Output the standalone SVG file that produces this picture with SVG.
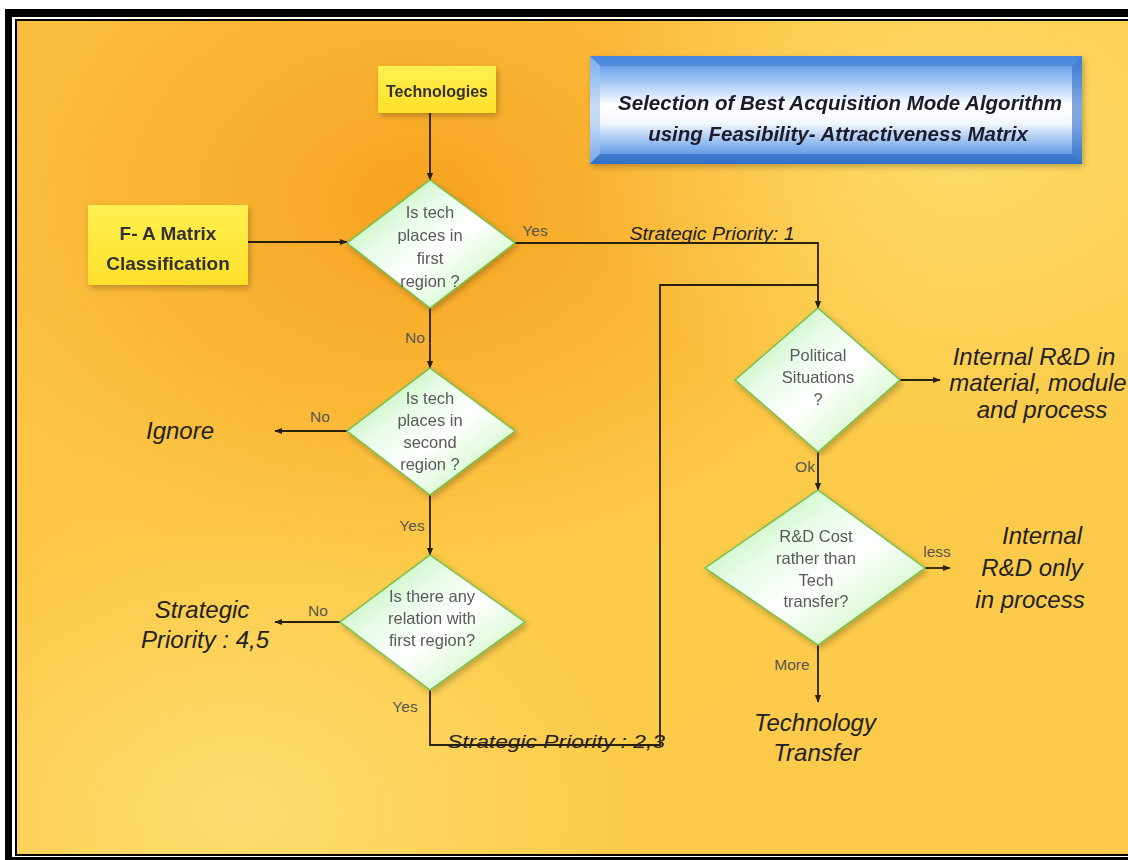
<svg xmlns="http://www.w3.org/2000/svg" width="1128" height="860" viewBox="0 0 1128 860">
<defs>
  <linearGradient id="bg" x1="0" y1="0" x2="1" y2="1">
    <stop offset="0" stop-color="#FBC040"/>
    <stop offset="0.5" stop-color="#FCCB48"/>
    <stop offset="1" stop-color="#FCCA4C"/>
  </linearGradient>
  <radialGradient id="orange" cx="0.36" cy="0.22" r="0.48">
    <stop offset="0" stop-color="#F6A01E" stop-opacity="0.95"/>
    <stop offset="0.6" stop-color="#F9AE2E" stop-opacity="0.55"/>
    <stop offset="1" stop-color="#FBC040" stop-opacity="0"/>
  </radialGradient>
  <radialGradient id="light" cx="0.85" cy="0.15" r="0.35">
    <stop offset="0" stop-color="#FDE070" stop-opacity="0.8"/>
    <stop offset="1" stop-color="#FDE070" stop-opacity="0"/>
  </radialGradient>
  <radialGradient id="light2" cx="0.2" cy="0.95" r="0.35">
    <stop offset="0" stop-color="#FDE27A" stop-opacity="0.8"/>
    <stop offset="1" stop-color="#FDE27A" stop-opacity="0"/>
  </radialGradient>
  <linearGradient id="ybox" x1="0" y1="0" x2="0" y2="1">
    <stop offset="0" stop-color="#FFF050"/>
    <stop offset="1" stop-color="#FFE02A"/>
  </linearGradient>
  <linearGradient id="tbox" x1="0" y1="0" x2="0" y2="1">
    <stop offset="0" stop-color="#4F8FE0"/>
    <stop offset="0.18" stop-color="#8AB8F0"/>
    <stop offset="0.45" stop-color="#FFFFFF"/>
    <stop offset="0.62" stop-color="#F4F8FE"/>
    <stop offset="0.85" stop-color="#7FAEEC"/>
    <stop offset="1" stop-color="#3E7FD6"/>
  </linearGradient>
  <linearGradient id="dia" x1="0" y1="0" x2="1" y2="1">
    <stop offset="0" stop-color="#A8EE98"/>
    <stop offset="0.35" stop-color="#E8FBE8"/>
    <stop offset="0.55" stop-color="#FFFFFF"/>
    <stop offset="0.8" stop-color="#D8F8D0"/>
    <stop offset="1" stop-color="#A8EC90"/>
  </linearGradient>
  <filter id="sh" x="-20%" y="-20%" width="140%" height="140%">
    <feGaussianBlur in="SourceAlpha" stdDeviation="3"/>
    <feOffset dx="2" dy="3"/>
    <feComponentTransfer><feFuncA type="linear" slope="0.25"/></feComponentTransfer>
    <feMerge><feMergeNode/><feMergeNode in="SourceGraphic"/></feMerge>
  </filter>
  <marker id="ah" viewBox="0 0 10 10" refX="9" refY="5" markerWidth="8" markerHeight="8" markerUnits="userSpaceOnUse" orient="auto">
    <path d="M0,1 L10,5 L0,9 Z" fill="#2A2010"/>
  </marker>
  <style>
    .lbl{font-family:"Liberation Sans",Arial,sans-serif;font-size:15.5px;fill:#5A5550;text-anchor:middle}
    .dt{font-family:"Liberation Sans",Arial,sans-serif;font-size:16.5px;fill:#5A5A5A;text-anchor:middle}
    .out{font-family:"Liberation Sans",Arial,sans-serif;font-size:24px;font-style:italic;fill:#222;text-anchor:middle}
    .sp{font-family:"Liberation Sans",Arial,sans-serif;font-size:19px;font-style:italic;fill:#222;text-anchor:middle}
    .bx{font-family:"Liberation Sans",Arial,sans-serif;font-weight:bold;fill:#333;text-anchor:middle}
    .title{font-family:"Liberation Sans",Arial,sans-serif;font-weight:bold;font-style:italic;font-size:20.5px;fill:#1A1A2A;text-anchor:middle}
    .cn{fill:none;stroke:#2A2010;stroke-width:1.8}
    .dm{fill:url(#dia);stroke:#72C24A;stroke-width:1.5}
  </style>
</defs>

<!-- frame -->
<rect x="0" y="0" width="1128" height="860" fill="#FFFFFF"/>
<rect x="5" y="9" width="1123" height="851" fill="#000"/>
<rect x="12" y="17" width="1116" height="840" fill="#FFFFFF"/>
<rect x="15" y="19" width="1113" height="837" fill="#000"/>
<!-- background -->
<rect x="17" y="21" width="1111" height="833" fill="url(#bg)"/>
<rect x="17" y="21" width="1111" height="833" fill="url(#orange)"/>
<rect x="17" y="21" width="1111" height="833" fill="url(#light)"/>
<rect x="17" y="21" width="1111" height="833" fill="url(#light2)"/>

<!-- connectors -->
<g id="connectors">
  <line class="cn" x1="430" y1="113" x2="430" y2="180" marker-end="url(#ah)"/>
  <line class="cn" x1="248" y1="242" x2="347" y2="242" marker-end="url(#ah)"/>
  <polyline class="cn" points="515,243 818,243 818,308" marker-end="url(#ah)"/>
  <line class="cn" x1="430" y1="308" x2="430" y2="368" marker-end="url(#ah)"/>
  <line class="cn" x1="347" y1="431" x2="275" y2="431" marker-end="url(#ah)"/>
  <line class="cn" x1="430" y1="495" x2="430" y2="555" marker-end="url(#ah)"/>
  <line class="cn" x1="340" y1="622" x2="275" y2="622" marker-end="url(#ah)"/>
  <polyline class="cn" points="430,690 430,745 660,745 660,285 818,285"/>
  <line class="cn" x1="900" y1="380" x2="940" y2="380" marker-end="url(#ah)"/>
  <line class="cn" x1="818" y1="452" x2="818" y2="490" marker-end="url(#ah)"/>
  <line class="cn" x1="925" y1="568" x2="950" y2="568" marker-end="url(#ah)"/>
  <line class="cn" x1="818" y1="645" x2="818" y2="702" marker-end="url(#ah)"/>
  <text class="lbl" x="535" y="236">Yes</text>
  <text class="sp" x="712" y="240" textLength="165" lengthAdjust="spacingAndGlyphs">Strategic Priority: 1</text>
  <text class="lbl" x="415" y="343">No</text>
  <text class="lbl" x="320" y="422">No</text>
  <text class="lbl" x="412" y="531">Yes</text>
  <text class="lbl" x="318" y="616">No</text>
  <text class="lbl" x="405" y="712">Yes</text>
  <text class="sp" x="556" y="748" textLength="218" lengthAdjust="spacingAndGlyphs">Strategic Priority : 2,3</text>
  <text class="lbl" x="805" y="472">Ok</text>
  <text class="lbl" x="937" y="557">less</text>
  <text class="lbl" x="792" y="670">More</text>
</g>

<!-- title -->
<g id="title" filter="url(#sh)">
  <rect x="590" y="56" width="492" height="108" fill="url(#tbox)"/>
  <polygon points="590,56 1082,56 1072,66 600,66" fill="#3D7BD4" opacity="0.5"/>
  <polygon points="1082,56 1082,164 1072,154 1072,66" fill="#2E6CC8" opacity="0.6"/>
  <polygon points="590,56 600,66 600,154 590,164" fill="#9CC4F4" opacity="0.6"/>
  <polygon points="590,164 600,154 1072,154 1082,164" fill="#2A66C0" opacity="0.6"/>
  <text class="title" x="840" y="110">Selection of Best Acquisition Mode Algorithm</text>
  <text class="title" x="838" y="141">using Feasibility- Attractiveness Matrix</text>
</g>

<g id="technologies" filter="url(#sh)">
  <rect x="378" y="66" width="118" height="47" fill="url(#ybox)"/>
  <text class="bx" x="437" y="97" font-size="16">Technologies</text>
</g>

<g id="fa-matrix" filter="url(#sh)">
  <rect x="88" y="205" width="160" height="80" fill="url(#ybox)"/>
  <text class="bx" x="168" y="240" font-size="19">F- A Matrix</text>
  <text class="bx" x="168" y="270" font-size="19">Classification</text>
</g>

<g id="d-first" filter="url(#sh)">
  <polygon class="dm" points="430,180 515,243 430,308 347,243"/>
  <text class="dt" x="430" y="218">Is tech</text>
  <text class="dt" x="430" y="241">places in</text>
  <text class="dt" x="430" y="264">first</text>
  <text class="dt" x="430" y="287">region ?</text>
</g>

<g id="d-second" filter="url(#sh)">
  <polygon class="dm" points="430,368 515,431 430,495 347,431"/>
  <text class="dt" x="430" y="404">Is tech</text>
  <text class="dt" x="430" y="426">places in</text>
  <text class="dt" x="430" y="448">second</text>
  <text class="dt" x="430" y="470">region ?</text>
</g>

<g id="d-relation" filter="url(#sh)">
  <polygon class="dm" points="430,555 525,622 430,690 340,622"/>
  <text class="dt" x="432" y="602">Is there any</text>
  <text class="dt" x="432" y="624">relation with</text>
  <text class="dt" x="432" y="646">first region?</text>
</g>

<g id="d-political" filter="url(#sh)">
  <polygon class="dm" points="818,308 900,380 818,452 735,380"/>
  <text class="dt" x="818" y="361">Political</text>
  <text class="dt" x="818" y="383">Situations</text>
  <text class="dt" x="818" y="405">?</text>
</g>

<g id="d-cost" filter="url(#sh)">
  <polygon class="dm" points="818,490 925,568 818,645 705,568"/>
  <text class="dt" x="816" y="542">R&amp;D Cost</text>
  <text class="dt" x="816" y="564">rather than</text>
  <text class="dt" x="816" y="586">Tech</text>
  <text class="dt" x="816" y="607">transfer?</text>
</g>

<g id="ignore"><text class="out" x="180" y="439">Ignore</text></g>
<g id="priority45">
  <text class="out" x="202" y="618">Strategic</text>
  <text class="out" x="205" y="648">Priority : 4,5</text>
</g>
<g id="internal-all">
  <text class="out" x="1034" y="365">Internal R&amp;D in</text>
  <text class="out" x="1038" y="391">material, module</text>
  <text class="out" x="1042" y="418">and process</text>
</g>
<g id="internal-process">
  <text class="out" x="1042" y="544">Internal</text>
  <text class="out" x="1032" y="576">R&amp;D only</text>
  <text class="out" x="1030" y="608">in process</text>
</g>
<g id="tech-transfer">
  <text class="out" x="815" y="731">Technology</text>
  <text class="out" x="817" y="761">Transfer</text>
</g>
</svg>
